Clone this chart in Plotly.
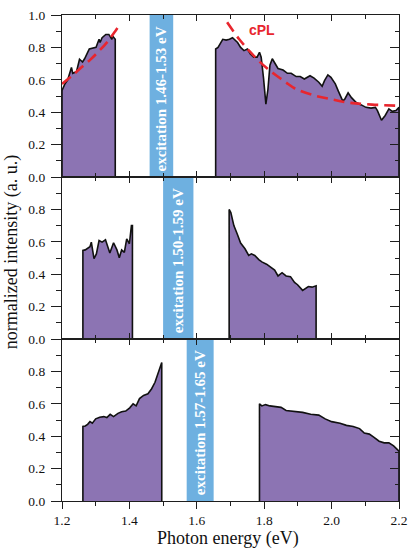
import plotly.graph_objects as go

# ---------------- data ----------------
top_left_E = [1.200, 1.209, 1.217, 1.228, 1.232, 1.243, 1.252, 1.261, 1.267, 1.281, 1.296,
              1.301, 1.310, 1.313, 1.319, 1.330, 1.339, 1.348, 1.350, 1.358]
top_left_I = [0.534, 0.576, 0.60, 0.676, 0.64, 0.65, 0.727, 0.71, 0.73, 0.79, 0.80,
              0.80, 0.85, 0.83, 0.86, 0.88, 0.88, 0.85, 0.87, 0.85]

top_right_E = [1.656, 1.663, 1.677, 1.687, 1.697, 1.706, 1.721, 1.730, 1.740, 1.750, 1.759,
               1.769, 1.779, 1.786, 1.791, 1.798, 1.805, 1.811, 1.817, 1.824, 1.832, 1.841,
               1.856, 1.869, 1.880, 1.895, 1.907, 1.919, 1.936, 1.948, 1.962, 1.972, 1.979,
               1.989, 1.998, 2.011, 2.020, 2.033, 2.039, 2.049, 2.059, 2.073, 2.088, 2.102,
               2.117, 2.130, 2.136, 2.148, 2.159, 2.170, 2.180, 2.191, 2.200]
top_right_I = [0.79, 0.80, 0.85, 0.845, 0.85, 0.86, 0.83, 0.80, 0.78, 0.79, 0.76,
               0.74, 0.74, 0.77, 0.74, 0.61, 0.45, 0.54, 0.69, 0.73, 0.70, 0.67,
               0.66, 0.64, 0.64, 0.62, 0.62, 0.605, 0.625, 0.61, 0.585, 0.56, 0.595,
               0.63, 0.615, 0.575, 0.53, 0.47, 0.48, 0.52, 0.49, 0.46, 0.445, 0.43,
               0.425, 0.43, 0.41, 0.35, 0.38, 0.42, 0.405, 0.41, 0.43]

mid_left_E = [1.262, 1.269, 1.276, 1.283, 1.287, 1.295, 1.302, 1.310, 1.319, 1.329, 1.342,
              1.353, 1.363, 1.370, 1.377, 1.385, 1.392, 1.400, 1.406, 1.409]
mid_left_I = [0.547, 0.55, 0.563, 0.57, 0.598, 0.496, 0.525, 0.608, 0.598, 0.612, 0.531,
              0.594, 0.55, 0.502, 0.55, 0.535, 0.618, 0.588, 0.70, 0.70]

mid_right_E = [1.696, 1.701, 1.710, 1.720, 1.730, 1.743, 1.754, 1.762, 1.772, 1.784, 1.793,
               1.807, 1.822, 1.831, 1.841, 1.853, 1.865, 1.878, 1.890, 1.899, 1.914, 1.923,
               1.931, 1.942, 1.954]
mid_right_I = [0.80, 0.78, 0.70, 0.648, 0.592, 0.557, 0.516, 0.526, 0.516, 0.49, 0.476,
               0.462, 0.442, 0.425, 0.389, 0.409, 0.389, 0.385, 0.349, 0.335, 0.30, 0.314,
               0.324, 0.32, 0.328]

bot_left_E = [1.262, 1.269, 1.276, 1.283, 1.290, 1.300, 1.312, 1.324, 1.333, 1.343, 1.353,
              1.366, 1.377, 1.389, 1.401, 1.411, 1.420, 1.430, 1.442, 1.455, 1.466, 1.476,
              1.486, 1.493, 1.496]
bot_left_I = [0.46, 0.463, 0.473, 0.49, 0.48, 0.507, 0.517, 0.521, 0.515, 0.535, 0.521,
              0.541, 0.551, 0.555, 0.575, 0.60, 0.587, 0.632, 0.652, 0.662, 0.693, 0.733,
              0.794, 0.851, 0.855]

bot_right_E = [1.786, 1.793, 1.804, 1.817, 1.832, 1.850, 1.865, 1.890, 1.914, 1.938, 1.962,
               1.981, 2.000, 2.025, 2.044, 2.064, 2.083, 2.097, 2.112, 2.126, 2.141, 2.156,
               2.170, 2.184, 2.200]
bot_right_I = [0.60, 0.587, 0.595, 0.587, 0.581, 0.578, 0.559, 0.555, 0.547, 0.535, 0.53,
               0.507, 0.49, 0.48, 0.467, 0.46, 0.447, 0.419, 0.413, 0.393, 0.369, 0.359,
               0.359, 0.34, 0.308]

cpl_left_E = [1.200, 1.230, 1.257, 1.285, 1.310, 1.335, 1.358, 1.373]
cpl_left_I = [0.575, 0.625, 0.676, 0.726, 0.778, 0.835, 0.90, 0.945]
cpl_right_E = [1.690, 1.726, 1.755, 1.784, 1.810, 1.837, 1.865, 1.890, 1.943, 2.001, 2.054, 2.120, 2.200]
cpl_right_I = [0.955, 0.85, 0.78, 0.717, 0.668, 0.625, 0.583, 0.548, 0.507, 0.479, 0.458, 0.447, 0.44]

band_lo = [1.46, 1.50, 1.57]
band_hi = [1.53, 1.59, 1.65]
band_labels = ["excitation 1.46-1.53 eV", "excitation 1.50-1.59 eV", "excitation 1.57-1.65 eV"]

x_ticks = [1.2, 1.4, 1.6, 1.8, 2.0, 2.2]
x_minor = [1.3, 1.5, 1.7, 1.9, 2.1]
y_ticks_top = [0.0, 0.2, 0.4, 0.6, 0.8, 1.0]
y_ticks_low = [0.0, 0.2, 0.4, 0.6, 0.8]
y_minor = [0.1, 0.3, 0.5, 0.7, 0.9]

# ---------------- styling ----------------
PURPLE = "#8c74b3"
BLUE = "#6eb0e0"
RED = "#e8262e"
AX = "#1e1e1e"
SERIF = "Liberation Serif"

fig = go.Figure()

panels = [("x", "y"), ("x2", "y2"), ("x3", "y3")]
segments = [
    (0, top_left_E, top_left_I), (0, top_right_E, top_right_I),
    (1, mid_left_E, mid_left_I), (1, mid_right_E, mid_right_I),
    (2, bot_left_E, bot_left_I), (2, bot_right_E, bot_right_I),
]
for p, E, I in segments:
    xa, ya = panels[p]
    fig.add_trace(go.Scatter(
        x=[E[0]] + E + [E[-1]], y=[0] + I + [0],
        mode="lines", fill="toself", fillcolor=PURPLE,
        line=dict(color="#111111", width=1.6),
        xaxis=xa, yaxis=ya, showlegend=False, hoverinfo="skip"))

for E, I in [(cpl_left_E, cpl_left_I), (cpl_right_E, cpl_right_I)]:
    fig.add_trace(go.Scatter(
        x=E, y=I, mode="lines", line=dict(color=RED, width=2.6, dash="11px,6px", shape="spline"),
        xaxis="x", yaxis="y", showlegend=False, hoverinfo="skip"))

# dummy traces so overlay axes are drawn
for xa, ya in [("x4", "y"), ("x5", "y2"), ("x6", "y3"), ("x", "y4"), ("x2", "y5"), ("x3", "y6")]:
    fig.add_trace(go.Scatter(x=[None], y=[None], xaxis=xa, yaxis=ya, showlegend=False,
                             hoverinfo="skip", mode="lines"))

domains = [[2/3, 1.0], [1/3, 2/3], [0.0, 1/3]]
tickfont = dict(family=SERIF, size=13.5, color="#111111")

layout = dict(
    width=415, height=551,
    margin=dict(l=62, r=8, t=9, b=50),
    paper_bgcolor="white", plot_bgcolor="white",
    shapes=[], annotations=[],
)

for i in range(3):
    xs = "" if i == 0 else str(i + 1)
    ys = "" if i == 0 else str(i + 1)
    bottom = (i == 2)
    layout["xaxis" + xs] = dict(
        domain=[0, 1], anchor="y" + ys, range=[1.2, 2.2],
        showline=True, linecolor=AX, linewidth=1.3, mirror=True,
        showgrid=False, zeroline=False,
        tickmode="array", tickvals=x_ticks, tickformat=".1f",
        ticks="outside" if bottom else "inside", ticklen=7 if bottom else 6,
        tickwidth=1.2, tickcolor=AX,
        minor=dict(tickmode="array", tickvals=x_minor, ticks="outside" if bottom else "inside",
                   ticklen=4, tickwidth=1.2, tickcolor=AX, showgrid=False),
        showticklabels=bottom, tickfont=tickfont,
    )
    layout["yaxis" + ys] = dict(
        domain=domains[i], anchor="x" + xs, range=[0, 1.0],
        showline=True, linecolor=AX, linewidth=1.3, mirror=True,
        showgrid=False, zeroline=False,
        tickmode="array", tickvals=y_ticks_top if i == 0 else y_ticks_low, tickformat=".1f",
        ticks="outside", ticklen=10, tickwidth=1.2, tickcolor=AX,
        minor=dict(tickmode="array", tickvals=y_minor, ticks="outside",
                   ticklen=5, tickwidth=1.2, tickcolor=AX, showgrid=False),
        tickfont=tickfont, ticklabelstandoff=3,
    )
    # top-side inside ticks
    layout["xaxis" + str(i + 4)] = dict(
        overlaying="x" + xs, anchor="y" + ys, side="top", range=[1.2, 2.2],
        showline=False, showgrid=False, zeroline=False, showticklabels=False,
        tickmode="array", tickvals=x_ticks, ticks="inside", ticklen=6,
        tickwidth=1.2, tickcolor=AX,
        minor=dict(tickmode="array", tickvals=x_minor, ticks="inside",
                   ticklen=4, tickwidth=1.2, tickcolor=AX, showgrid=False),
    )
    # right-side inside ticks
    layout["yaxis" + str(i + 4)] = dict(
        overlaying="y" + ys, anchor="x" + xs, side="right", range=[0, 1.0],
        showline=False, showgrid=False, zeroline=False, showticklabels=False,
        tickmode="array", tickvals=y_ticks_top, ticks="inside", ticklen=9,
        tickwidth=1.2, tickcolor=AX,
        minor=dict(tickmode="array", tickvals=y_minor, ticks="inside",
                   ticklen=4, tickwidth=1.2, tickcolor=AX, showgrid=False),
    )
    # excitation band
    layout["shapes"].append(dict(
        type="rect", xref="x" + xs, yref="y" + ys + " domain",
        x0=band_lo[i], x1=band_hi[i], y0=0, y1=1,
        fillcolor=BLUE, line=dict(width=0), layer="below"))
    layout["annotations"].append(dict(
        xref="x" + xs, yref="y" + ys + " domain",
        x=(band_lo[i] + band_hi[i]) / 2, y=0.5, yshift=-3,
        text=band_labels[i], textangle=-90, showarrow=False,
        font=dict(family=SERIF, size=15, color="white", weight="bold")))

layout["annotations"] += [
    dict(xref="x", yref="y", x=1.794, y=0.905, text="cPL", showarrow=False,
         font=dict(family="Liberation Sans", size=14, color=RED, weight="bold")),
    dict(xref="paper", yref="paper", x=-0.150, y=0.513, text="normalized intensity (a. u.)",
         textangle=-90, showarrow=False, xanchor="center", yanchor="middle",
         font=dict(family=SERIF, size=18, color="#111111")),
    dict(xref="paper", yref="paper", x=0.494, y=-0.077, text="Photon energy (eV)",
         showarrow=False, xanchor="center", yanchor="middle",
         font=dict(family=SERIF, size=18, color="#111111")),
]

fig.update_layout(**layout)
fig.write_html("out.html", config={"displayModeBar": False},
               post_script="document.body.style.margin='0px';document.body.style.overflow='hidden';")
